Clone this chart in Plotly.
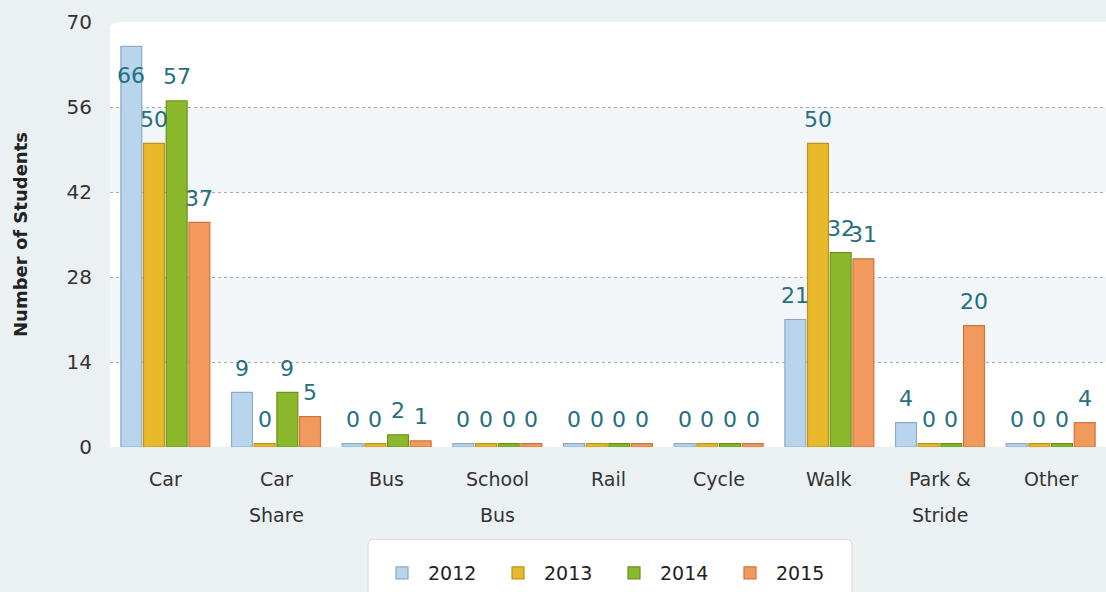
import plotly.graph_objects as go

categories = ["Car", "Car Share", "Bus", "School Bus", "Rail", "Cycle", "Walk", "Park & Stride", "Other"]
label_line1 = ["Car", "Car", "Bus", "School", "Rail", "Cycle", "Walk", "Park &", "Other"]
label_line2 = ["", "Share", "", "Bus", "", "", "", "Stride", ""]
years = ["2012", "2013", "2014", "2015"]
v2012 = [66, 9, 0, 0, 0, 0, 21, 4, 0]
v2013 = [50, 0, 0, 0, 0, 0, 50, 0, 0]
v2014 = [57, 9, 2, 0, 0, 0, 32, 0, 0]
v2015 = [37, 5, 1, 0, 0, 0, 31, 20, 4]
y_ticks = [0, 14, 28, 42, 56, 70]

fills = ["#b9d5ee", "#e9b92c", "#8cb82c", "#f29a5e"]
lines = ["#8ea9c4", "#c0941a", "#6a9218", "#d0743a"]
series = [v2012, v2013, v2014, v2015]
lab_color = "#256f7f"

BARGAP = 0.18
BARGROUPGAP = 0.08
YMAX = 70
L, R, T, B, W, H = 110, 0, 22, 142, 1106, 592
PW, PH = W - L - R, H - T - B

fig = go.Figure()
annotations = []
n = len(series)
slot = (1 - BARGAP) / n
for i, (name, vals, fc, lc) in enumerate(zip(years, series, fills, lines)):
    disp = [v if v > 0 else 0.55 for v in vals]
    fig.add_trace(go.Bar(
        x=categories, y=disp, name=name,
        marker=dict(color=fc, line=dict(color=lc, width=1.2)),
        hoverinfo="x+name", hovertext=[str(v) for v in vals],
    ))
    for j, (v, d) in enumerate(zip(vals, disp)):
        inside = v > YMAX - 6
        annotations.append(dict(
            x=j + (i - (n - 1) / 2) * slot, xref="x", y=d, yref="y",
            yanchor="middle", yshift=(-29 if inside else 24),
            text=str(v), showarrow=False,
            font=dict(family="DejaVu Sans", size=22, color=lab_color)))

for cat, l1, l2 in zip(categories, label_line1, label_line2):
    annotations.append(dict(x=cat, xref="x", y=0, yref="paper", yanchor="middle",
                            yshift=-32, text=l1, showarrow=False,
                            font=dict(family="DejaVu Sans", size=19, color="#333333")))
    if l2:
        annotations.append(dict(x=cat, xref="x", y=0, yref="paper", yanchor="middle",
                                yshift=-68, text=l2, showarrow=False,
                                font=dict(family="DejaVu Sans", size=19, color="#333333")))

def px_x(p):
    return (p - L) / PW

def px_y(p):
    return (H - B - p) / PH

lx0, lx1, ly0, ly1 = px_x(368), px_x(852), px_y(543), px_y(600)
rx, ry = 6 / PW, 6 / PH
legend_path = (f"M {lx0},{ly1} L {lx0},{ly0 - ry} Q {lx0},{ly0} {lx0 + rx},{ly0} "
               f"L {lx1 - rx},{ly0} Q {lx1},{ly0} {lx1},{ly0 - ry} L {lx1},{ly1} Z")

shapes = [
    dict(type="path", xref="paper", yref="paper",
         path="M 0,0 L 0,0.985 Q 0,1 0.012,1 L 1,1 L 1,0 Z",
         fillcolor="white", line=dict(width=0), layer="below"),
    dict(type="rect", xref="paper", yref="y", x0=0, x1=1, y0=14, y1=28,
         fillcolor="#f2f6f8", line=dict(width=0), layer="below"),
    dict(type="rect", xref="paper", yref="y", x0=0, x1=1, y0=42, y1=56,
         fillcolor="#f2f6f8", line=dict(width=0), layer="below"),
    dict(type="path", xref="paper", yref="paper", path=legend_path,
         fillcolor="white", line=dict(color="#d6dbde", width=1), layer="above"),
]

fig.update_layout(
    width=W, height=H,
    margin=dict(l=L, r=R, t=T, b=B),
    paper_bgcolor="#ebf1f3", plot_bgcolor="rgba(0,0,0,0)",
    barmode="group", bargap=BARGAP, bargroupgap=BARGROUPGAP,
    font=dict(family="DejaVu Sans", color="#333333"),
    shapes=shapes, annotations=annotations,
    showlegend=True,
    legend=dict(orientation="h", x=0.5, xanchor="center", y=px_y(558), yanchor="top",
                bgcolor="rgba(0,0,0,0)", borderwidth=0,
                font=dict(family="DejaVu Sans", size=19, color="#222222"),
                itemwidth=42, entrywidth=59, entrywidthmode="pixels", traceorder="normal"),
    xaxis=dict(showticklabels=False, showgrid=False, showline=False, ticks=""),
    yaxis=dict(range=[0, YMAX], tickvals=y_ticks, tickfont=dict(size=20, color="#333333"),
               showgrid=True, gridcolor="#aaaaaa", griddash="dot", gridwidth=1,
               zeroline=False, showline=False, ticks="outside", ticklen=13,
               tickcolor="rgba(0,0,0,0)",
               title=dict(text="<b>Number of Students</b>", font=dict(size=18, color="#222222"),
                          standoff=34)),
)
fig.write_html("out.html")
